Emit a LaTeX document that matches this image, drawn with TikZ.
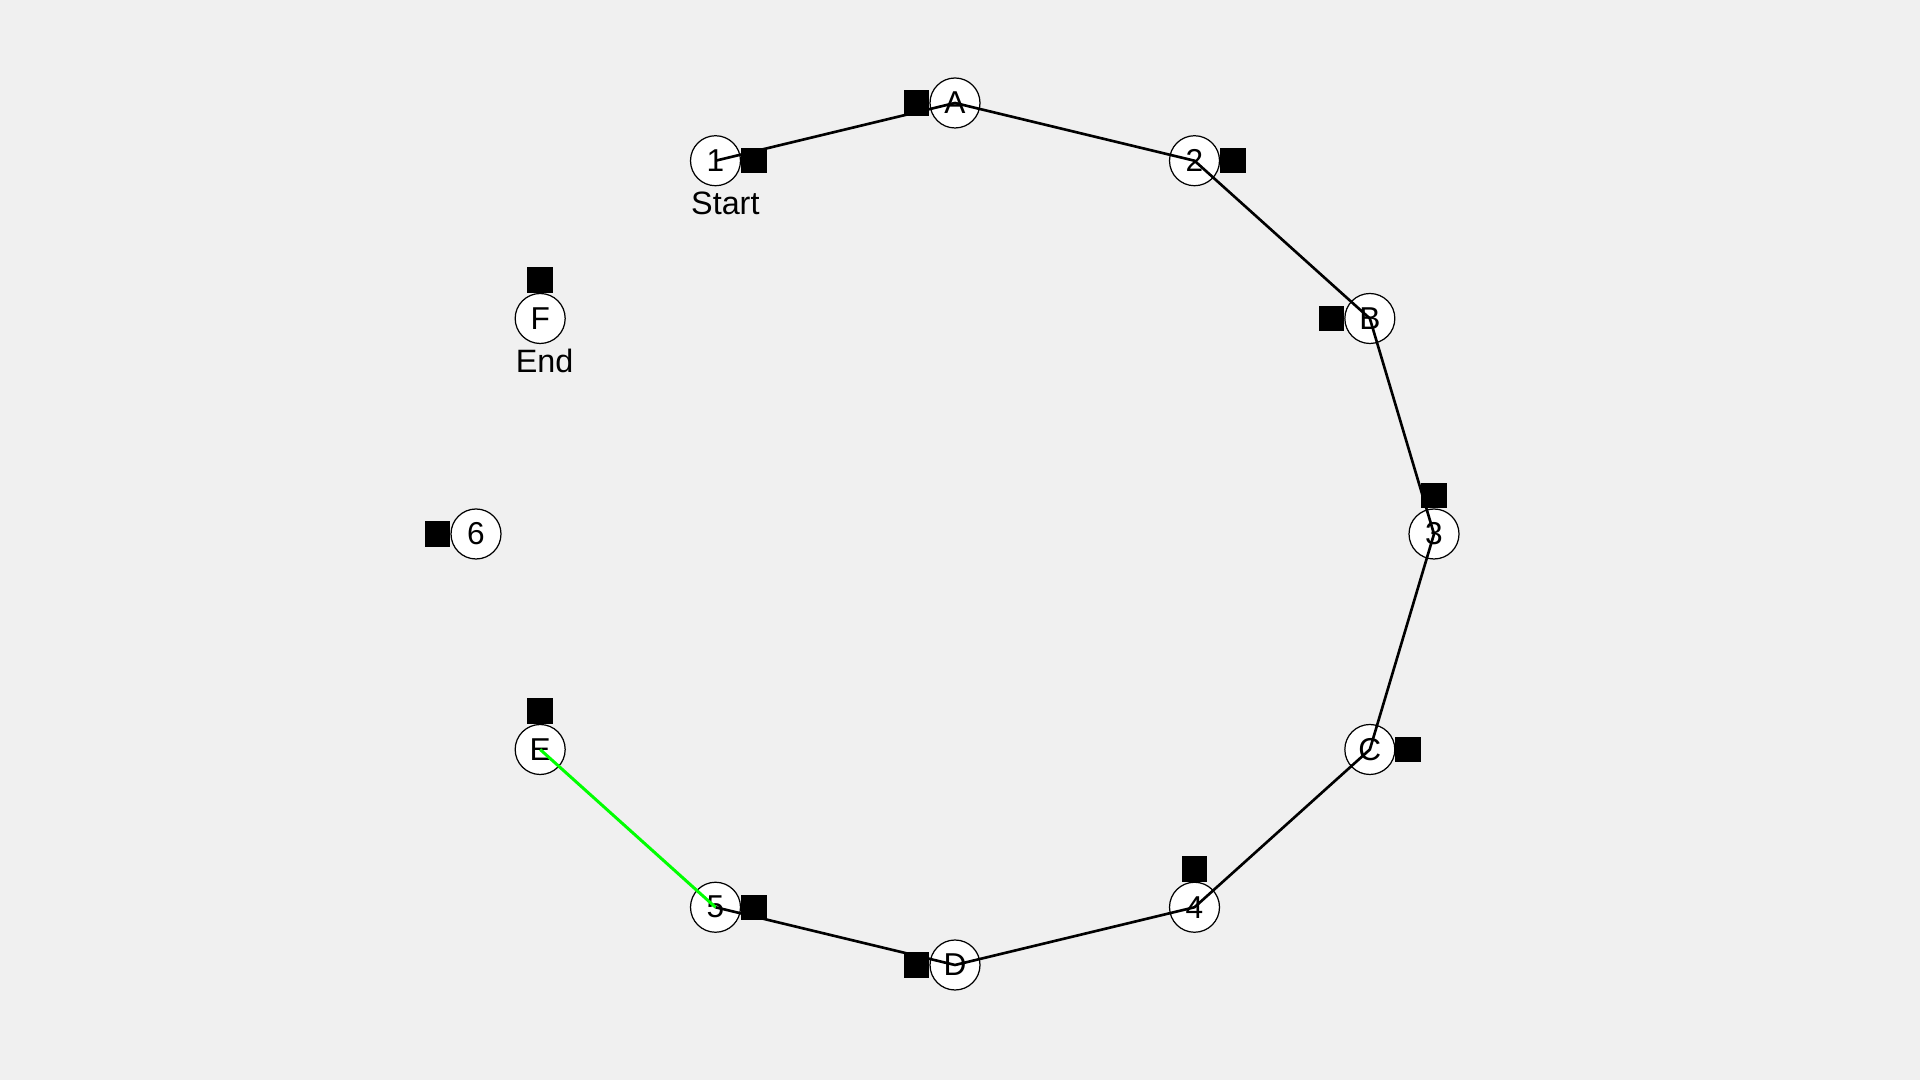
\documentclass[tikz,border=0pt]{standalone}
\usepackage{fontspec}
\setmainfont{Liberation Sans}
\usetikzlibrary{positioning}

\definecolor{figbg}{RGB}{240,240,240}
\definecolor{pathgreen}{RGB}{0,255,0}

\tikzset{
  stop/.style={circle,draw=black,line width=0.35pt,fill=white,minimum size=0.5cm,inner sep=0pt,font=\fontsize{9}{9}\selectfont},
  sqbox/.style={fill=black,minimum size=0.255cm,inner sep=0pt,outer sep=0pt},
  leg/.style={black,line width=0.75pt},
  lastleg/.style={pathgreen,line width=0.85pt},
  tag/.style={anchor=west,inner sep=0pt,font=\fontsize{9.2}{9.2}\selectfont}
}

\begin{document}
\begin{tikzpicture}
\fill[figbg] (0,0) rectangle (19.2,10.8);
\useasboundingbox (0,0) rectangle (19.2,10.8);

% stops on the ring, with their boxes
\foreach \lab/\ang/\anc/\side in {3/0/south/north, B/30/east/west, 2/60/west/east, A/90/east/west,
    1/120/west/east, F/150/south/north, 6/180/east/west, E/210/south/north,
    5/240/west/east, D/270/east/west, 4/300/south/north, C/330/west/east}
{
  \node[stop] (n\lab) at ({9.55+4.79*cos(\ang)},{5.46+4.31*sin(\ang)}) {\lab};
  \node[sqbox,anchor=\anc] (s\lab) at (n\lab.\side) {};
}

\node[tag] (start) at ([xshift=-2.5mm,yshift=-4.25mm]n1.center) {Start};
\node[tag] (end) at ([xshift=-2.5mm,yshift=-4.25mm]nF.center) {End};

% route
\draw[leg] (n1.center) -- (nA.center) -- (n2.center) -- (nB.center) -- (n3.center)
  -- (nC.center) -- (n4.center) -- (nD.center) -- (n5.center);
\draw[lastleg] (n5.center) -- (nE.center);
\end{tikzpicture}
\end{document}
